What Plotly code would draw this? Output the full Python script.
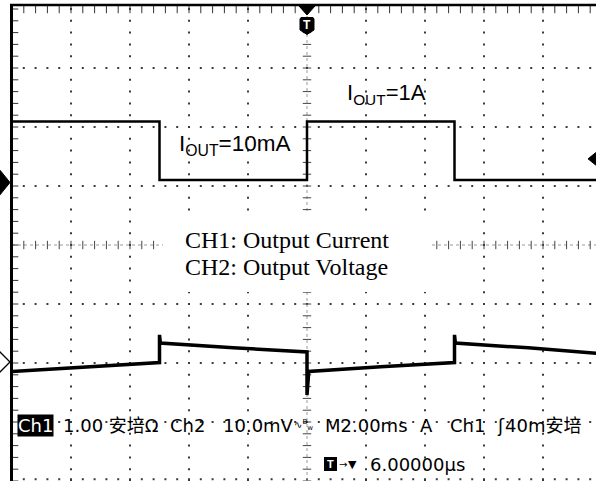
import plotly.graph_objects as go

# ---------------- data ----------------
# CH1: output current (A) vs time (ms)
time_ms_ch1 = [0.0, 5.0, 5.0, 10.0, 10.0, 15.0, 15.0, 19.8]
current_A = [1.0, 1.0, 0.01, 0.01, 1.0, 1.0, 0.01, 0.01]

# CH2: output voltage deviation (mV, AC coupled) vs time (ms)
time_ms_ch2 = [0.0, 2.5, 5.0, 5.0, 5.03, 7.5, 10.0, 10.0, 10.06, 12.5, 15.0, 15.0, 15.03, 17.5, 19.8]
voltage_mV = [-1.6, -0.8, -0.1, 4.6, 3.2, 2.4, 1.7, -5.6, -1.6, -0.8, -0.1, 4.6, 3.2, 2.4, 1.5]

# scope settings
CH1_SCALE = 1.0      # A / div
CH2_SCALE = 10.0     # mV / div
TIME_SCALE = 2.0     # ms / div
CH1_POS = 1.093      # div (ground marker position)
CH2_POS = -1.983     # div
TRIG_TIME = 10.0     # ms (center of screen)
TRIG_LEVEL_DIV = 1.46  # trigger marker on right edge (div)

status_line1 = ["Ch1", "1.00 安培Ω", "Ch2", "10.0mV", "M2.00ms", "A", "Ch1", "ʃ", "40m安培"]
status_line2 = "6.00000µs"
label_hi = "I<sub>OUT</sub>=1A"
label_lo = "I<sub>OUT</sub>=10mA"
legend_lines = ["CH1: Output Current", "CH2: Output Voltage"]

# ---------------- geometry ----------------
W, H = 596, 481
L, T = 12, 0
FRAME_TOP = 5          # pixel row of the graticule top frame
PW, PH = W - L, H - T
DIV = 59.0
CY = 245.0  # pixel of screen center line

x_max = PW / DIV * TIME_SCALE
y_top = (CY - T) / DIV
y_bot = -(H - CY) / DIV
y_frame = (CY - FRAME_TOP) / DIV


def px(x):
    return (x - L) / PW


def py(y):
    return (H - y) / PH


def t2px(t):
    return L + t / TIME_SCALE * DIV


fig = go.Figure()

# ---------------- graticule ----------------
dot = dict(color="#3a3a3a", size=2, symbol="square")
minor_x = [i * TIME_SCALE / 5 for i in range(0, 50)]
minor_y = [round(-4 + i * 0.2, 3) for i in range(0, 41)]

# horizontal dotted lines
hx, hy = [], []
for j in [-3.97, -3, -2, -1, 1, 2, 3]:
    for x in minor_x:
        hx.append(x)
        hy.append(j)
# vertical dotted lines
for k in [1, 2, 3, 4, 6, 7, 8, 9]:
    for y in minor_y:
        hx.append(k * TIME_SCALE)
        hy.append(y)
fig.add_trace(go.Scatter(x=hx, y=hy, mode="markers", marker=dot, hoverinfo="skip", showlegend=False))

# center cross lines
fig.add_trace(go.Scatter(x=[0, x_max], y=[0, 0], mode="lines",
                         line=dict(color="#9a9a9a", width=1, dash="dot"), hoverinfo="skip", showlegend=False))
fig.add_trace(go.Scatter(x=[TRIG_TIME, TRIG_TIME], y=[y_bot, y_frame], mode="lines",
                         line=dict(color="#9a9a9a", width=1, dash="dot"), hoverinfo="skip", showlegend=False))
fig.add_trace(go.Scatter(x=minor_x, y=[0] * len(minor_x), mode="markers",
                         marker=dict(symbol="line-ns", size=6, line=dict(color="#444", width=1)),
                         hoverinfo="skip", showlegend=False))
fig.add_trace(go.Scatter(x=[TRIG_TIME] * len(minor_y), y=minor_y, mode="markers",
                         marker=dict(symbol="line-ew", size=6, line=dict(color="#444", width=1)),
                         hoverinfo="skip", showlegend=False))
# border ticks (pointing into the screen)
fig.add_trace(go.Scatter(x=minor_x, y=[y_frame - 4 / DIV] * len(minor_x), mode="markers",
                         marker=dict(symbol="line-ns", size=6, line=dict(color="#333", width=1)),
                         hoverinfo="skip", showlegend=False))
fig.add_trace(go.Scatter(x=[0] * len(minor_y), y=minor_y, mode="markers",
                         marker=dict(symbol="line-ew", size=9, line=dict(color="#333", width=1)),
                         hoverinfo="skip", showlegend=False))

# ---------------- waveforms ----------------
fig.add_trace(go.Scatter(x=time_ms_ch1, y=current_A, yaxis="y2", mode="lines",
                         line=dict(color="black", width=2.5), hoverinfo="skip", showlegend=False))
fig.add_trace(go.Scatter(x=time_ms_ch2, y=voltage_mV, yaxis="y3", mode="lines",
                         line=dict(color="black", width=3.5), hoverinfo="skip", showlegend=False))

# ---------------- axes ----------------
fig.update_layout(
    width=W, height=H,
    margin=dict(l=L, r=0, t=T, b=0, pad=0),
    paper_bgcolor="white", plot_bgcolor="white",
    showlegend=False,
    xaxis=dict(range=[0, x_max], showline=False,
               showgrid=False, zeroline=False, showticklabels=False, ticks=""),
    yaxis=dict(range=[y_bot, y_top], showline=False,
               showgrid=False, zeroline=False, showticklabels=False, ticks=""),
    yaxis2=dict(range=[(y_bot - CH1_POS) * CH1_SCALE, (y_top - CH1_POS) * CH1_SCALE],
                overlaying="y", visible=False),
    yaxis3=dict(range=[(y_bot - CH2_POS) * CH2_SCALE, (y_top - CH2_POS) * CH2_SCALE],
                overlaying="y", visible=False),
)

# ---------------- frame / markers / shapes ----------------
shapes = []
# top frame line and left frame line
shapes.append(dict(type="line", xref="paper", yref="paper", x0=px(10), x1=px(600),
                   y0=py(FRAME_TOP), y1=py(FRAME_TOP),
                   line=dict(color="black", width=2.5), layer="above"))
shapes.append(dict(type="line", xref="paper", yref="paper", x0=px(11.5), x1=px(11.5),
                   y0=py(FRAME_TOP - 1), y1=py(H + 2),
                   line=dict(color="black", width=3), layer="above"))
# white box behind the channel legend text
shapes.append(dict(type="rect", xref="paper", yref="paper", x0=px(163), x1=px(429), y0=py(292), y1=py(213),
                   fillcolor="white", line=dict(width=0), layer="above"))


def path(points):
    s = "M " + " L ".join(f"{px(x):.5f},{py(y):.5f}" for x, y in points) + " Z"
    return s


ch1_y = CY - CH1_POS * DIV
ch2_y = CY - CH2_POS * DIV
# CH1 ground marker (filled)
shapes.append(dict(type="path", xref="paper", yref="paper",
                   path=path([(-3, ch1_y - 14), (10, ch1_y + 2), (-3, ch1_y + 18)]),
                   fillcolor="black", line=dict(color="black", width=1), layer="above"))
# CH2 ground marker (outlined)
shapes.append(dict(type="path", xref="paper", yref="paper",
                   path=path([(-4, ch2_y - 14), (10, ch2_y), (-4, ch2_y + 14)]),
                   fillcolor="white", line=dict(color="black", width=1.3), layer="above"))
# trigger level marker (right)
tl = CY - TRIG_LEVEL_DIV * DIV
shapes.append(dict(type="path", xref="paper", yref="paper",
                   path=path([(588, tl), (598, tl - 8), (598, tl + 8)]),
                   fillcolor="black", line=dict(color="black", width=1), layer="above"))
# trigger position marker (top)
tx = t2px(TRIG_TIME)
shapes.append(dict(type="path", xref="paper", yref="paper",
                   path=path([(tx - 8, 6), (tx + 8, 6), (tx, 15)]),
                   fillcolor="black", line=dict(color="black", width=1), layer="above"))
shapes.append(dict(type="path", xref="paper", yref="paper",
                   path=path([(tx - 7, 19), (tx - 6, 17.5), (tx + 6, 17.5), (tx + 7, 19),
                              (tx + 7, 30), (tx, 34.5), (tx - 7, 30)]),
                   fillcolor="black", line=dict(color="black", width=1), layer="above"))
# small T box in status line
shapes.append(dict(type="rect", xref="paper", yref="paper", x0=px(324), x1=px(337), y0=py(471), y1=py(457),
                   fillcolor="black", line=dict(width=0), layer="above"))
fig.update_layout(shapes=shapes)

# ---------------- texts ----------------
ann = []
sans = "DejaVu Sans, Noto Sans CJK SC, sans-serif"


def text(x, y, s, size=18, color="black", family=sans, xanchor="left", **kw):
    ann.append(dict(x=px(x), y=py(y), xref="paper", yref="paper", text=s, showarrow=False,
                    xanchor=xanchor, yanchor="middle", font=dict(size=size, color=color, family=family), **kw))


# T in trigger-position marker
text(tx, 25, "<b>T</b>", size=12, color="white", family="Liberation Sans, Arial", xanchor="center")

# waveform labels
text(345, 94, label_hi, size=22, family="Liberation Sans, Arial")
text(177, 145, label_lo, size=22.5, family="Liberation Sans, Arial")
text(183, 240, legend_lines[0], size=24, family="Liberation Serif, Times New Roman")
text(183, 267, legend_lines[1], size=24, family="Liberation Serif, Times New Roman")

# status line 1
ann.append(dict(x=px(17), y=py(425), xref="paper", yref="paper", text=status_line1[0], showarrow=False,
                xanchor="left", yanchor="middle", bgcolor="black", borderpad=0,
                font=dict(size=18, color="white", family=sans)))
text(61, 425, status_line1[1])
text(168, 425, status_line1[2])
text(221, 425, status_line1[3])
text(292, 425, "∿<sup>B</sup><sub>w</sub>", size=10)
text(323, 425, status_line1[4])
text(418, 425, status_line1[5])
text(448, 425, status_line1[6])
text(495, 425, status_line1[7])
text(503, 425, status_line1[8])

# status line 2
text(330.5, 464, "<b>T</b>", size=11, color="white", family="Liberation Sans, Arial", xanchor="center")
text(337, 464, "→", size=10)
text(346, 464, "▼", size=11)
text(368, 464, status_line2)

fig.update_layout(annotations=ann)

fig.write_html("out.html", config={"displayModeBar": False},
               post_script="document.body.style.margin='0';document.body.style.overflow='hidden';")
